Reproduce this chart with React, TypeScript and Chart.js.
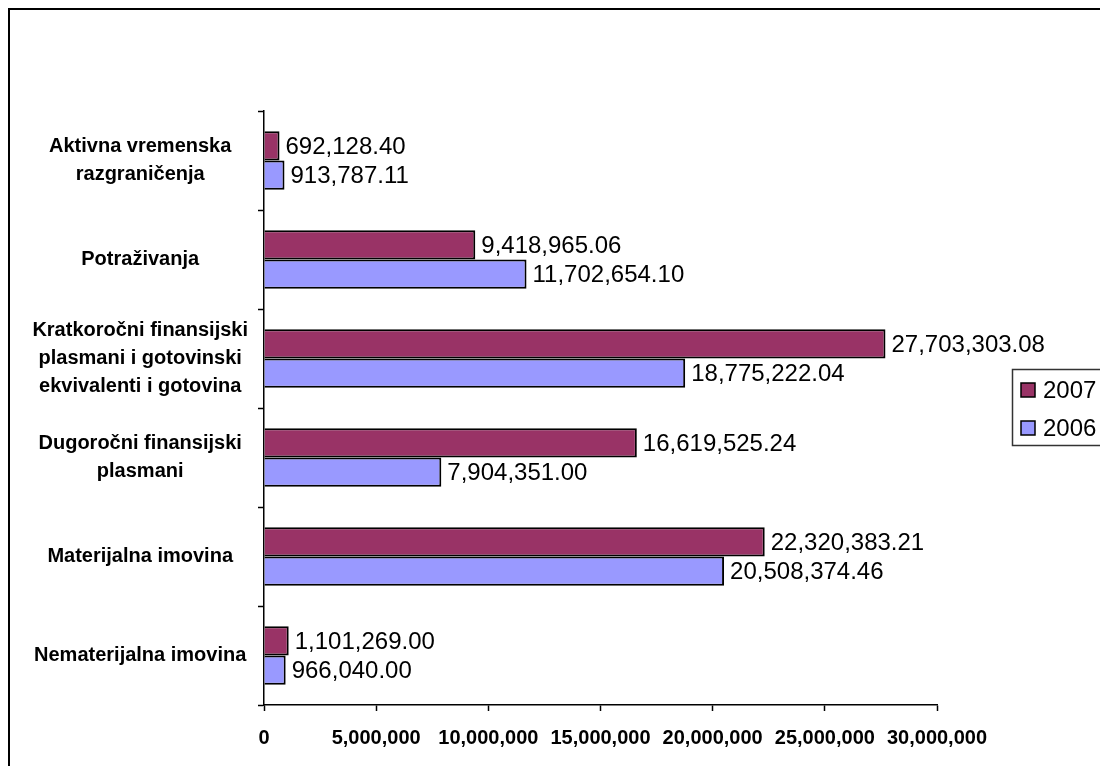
import React, { useEffect, useRef } from 'react';
import { Chart, registerables } from 'chart.js';

Chart.register(...registerables);

const categories: (string | string[])[] = [
  ['Aktivna vremenska', 'razgraničenja'],
  'Potraživanja',
  ['Kratkoročni finansijski', 'plasmani i gotovinski', 'ekvivalenti i gotovina'],
  ['Dugoročni finansijski', 'plasmani'],
  'Materijalna imovina',
  'Nematerijalna imovina',
];
const seriesNames = ['2007', '2006'];
const values2007 = [692128.4, 9418965.06, 27703303.08, 16619525.24, 22320383.21, 1101269.0];
const values2006 = [913787.11, 11702654.1, 18775222.04, 7904351.0, 20508374.46, 966040.0];
const seriesColors = ['#993366', '#9999FF'];
const xMin = 0;
const xMax = 30000000;
const xStep = 5000000;

const FONT = '"Liberation Sans", Arial, sans-serif';

const fmtInt = (v: number) =>
  Math.round(v)
    .toString()
    .replace(/\B(?=(\d{3})+(?!\d))/g, ',');
const fmtDec = (v: number) => {
  const [i, d] = v.toFixed(2).split('.');
  return fmtInt(Number(i)) + '.' + d;
};

const labelsPlugin = {
  id: 'barLabels',
  afterDatasetsDraw(chart: any) {
    const ctx = chart.ctx;
    ctx.save();
    ctx.font = `24px ${FONT}`;
    ctx.fillStyle = '#000';
    ctx.textBaseline = 'middle';
    ctx.textAlign = 'left';
    chart.data.datasets.forEach((ds: any, i: number) => {
      const meta = chart.getDatasetMeta(i);
      meta.data.forEach((bar: any, j: number) => {
        const { x, y } = bar.getProps(['x', 'y'], true);
        ctx.fillText(fmtDec(ds.data[j]), x + 6, y + 1);
      });
    });
    ctx.restore();
  },
};

const framePlugin = {
  id: 'frame',
  afterDraw(chart: any) {
    const ctx = chart.ctx;
    ctx.save();
    ctx.strokeStyle = '#000';
    ctx.lineWidth = 2;
    ctx.beginPath();
    ctx.moveTo(1, chart.height);
    ctx.lineTo(1, 1);
    ctx.lineTo(chart.width, 1);
    ctx.stroke();

    const lx = 1004.5;
    const ly = 361.5;
    const lw = 91;
    const lh = 76;
    ctx.lineWidth = 1.5;
    ctx.strokeStyle = '#333';
    ctx.strokeRect(lx, ly, lw, lh);
    ctx.font = `24px ${FONT}`;
    ctx.textBaseline = 'middle';
    ctx.textAlign = 'left';
    const rows = [382, 420];
    chart.data.datasets.forEach((ds: any, i: number) => {
      const cy = rows[i];
      ctx.fillStyle = ds.backgroundColor;
      ctx.fillRect(lx + 8.5, cy - 7, 14, 14);
      ctx.strokeStyle = '#000';
      ctx.lineWidth = 1.5;
      ctx.strokeRect(lx + 8.5, cy - 7, 14, 14);
      ctx.fillStyle = '#000';
      ctx.fillText(ds.label, lx + 30.5, cy + 1);
    });
    ctx.restore();
  },
};

export default function App() {
  const ref = useRef<HTMLCanvasElement | null>(null);

  useEffect(() => {
    if (!ref.current) return;
    Chart.defaults.color = '#000';
    const chart = new Chart(ref.current, {
      type: 'bar',
      data: {
        labels: categories as any,
        datasets: [
          {
            label: seriesNames[0],
            data: values2007,
            backgroundColor: seriesColors[0],
            borderColor: '#000',
            borderWidth: 2,
            categoryPercentage: 0.59,
            barPercentage: 1,
          },
          {
            label: seriesNames[1],
            data: values2006,
            backgroundColor: seriesColors[1],
            borderColor: '#000',
            borderWidth: 2,
            categoryPercentage: 0.59,
            barPercentage: 1,
          },
        ],
      },
      options: {
        indexAxis: 'y',
        animation: false,
        responsive: false,
        devicePixelRatio: 1,
        layout: { padding: { left: 0, right: 171, top: 103, bottom: 0 } },
        plugins: {
          legend: { display: false },
          tooltip: { enabled: false },
        },
        scales: {
          x: {
            type: 'linear',
            min: xMin,
            max: xMax,
            afterFit(scale: any) {
              scale.height = 61;
            },
            ticks: {
              stepSize: xStep,
              color: '#000',
              font: { family: FONT, size: 20, weight: 'bold' },
              padding: 15,
              maxRotation: 0,
              autoSkip: false,
              callback: (v: any) => fmtInt(Number(v)),
            },
            grid: {
              drawOnChartArea: false,
              drawTicks: true,
              tickLength: 6,
              tickWidth: 1.5,
              tickColor: '#000',
            },
            border: { display: true, color: '#000', width: 1.5 },
          },
          y: {
            type: 'category',
            afterFit(scale: any) {
              scale.width = 256;
            },
            ticks: {
              color: '#000',
              font: { family: FONT, size: 20, weight: 'bold', lineHeight: '28px' },
              crossAlign: 'center',
              padding: 10,
              autoSkip: false,
            },
            grid: {
              offset: true,
              drawOnChartArea: false,
              drawTicks: true,
              tickLength: 6,
              tickWidth: 1.5,
              tickColor: '#000',
            },
            border: { display: true, color: '#000', width: 1.5 },
          },
        },
      } as any,
      plugins: [labelsPlugin, framePlugin],
    });
    return () => chart.destroy();
  }, []);

  return (
    <canvas
      ref={ref}
      width={1100}
      height={758}
      style={{ display: 'block', width: 1100, height: 758 }}
    />
  );
}
